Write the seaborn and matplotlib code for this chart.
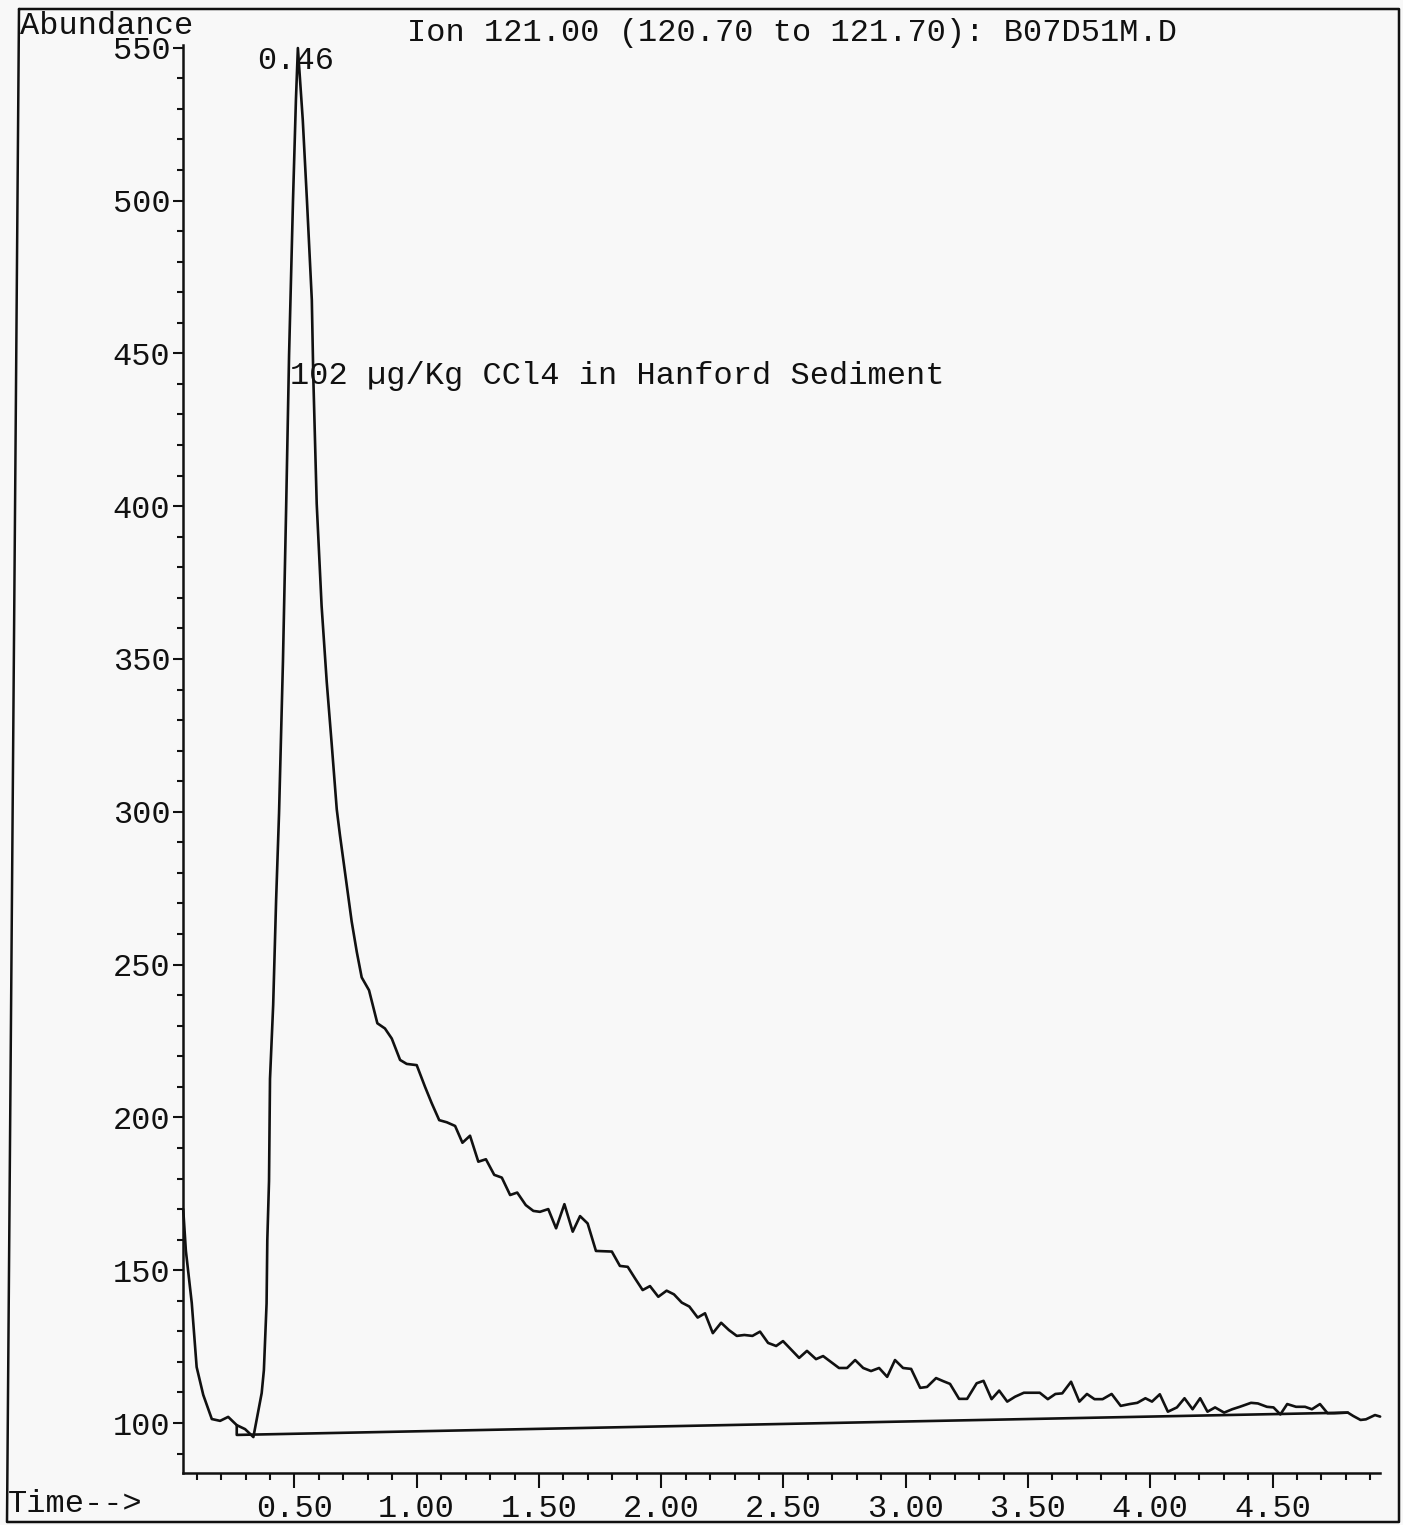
import matplotlib
matplotlib.use("Agg")
import matplotlib.pyplot as plt
from matplotlib.lines import Line2D
from matplotlib.ticker import FixedLocator, FixedFormatter
import numpy as np
import pandas as pd
import seaborn as sns

# Extracted ion chromatogram, m/z 121 (scan time in minutes, abundance)
time_min = [
    0.045, 0.056, 0.080, 0.100, 0.127, 0.162, 0.196, 0.229, 0.264, 0.298,
    0.332, 0.366, 0.375, 0.386, 0.389, 0.396, 0.400, 0.413, 0.425, 0.437,
    0.453, 0.466, 0.478, 0.494, 0.506, 0.514, 0.534, 0.551, 0.571, 0.577,
    0.591, 0.611, 0.632, 0.652, 0.673, 0.686, 0.714, 0.734, 0.755, 0.775,
    0.805, 0.839, 0.870, 0.898, 0.932, 0.959, 1.000, 1.034, 1.061, 1.092,
    1.123, 1.157, 1.187, 1.218, 1.252, 1.283, 1.317, 1.348, 1.382, 1.411,
    1.446, 1.477, 1.504, 1.538, 1.570, 1.604, 1.638, 1.668, 1.699, 1.733,
    1.798, 1.831, 1.863, 1.893, 1.924, 1.954, 1.988, 2.022, 2.052, 2.084,
    2.115, 2.149, 2.179, 2.211, 2.245, 2.277, 2.309, 2.340, 2.373, 2.404,
    2.437, 2.470, 2.498, 2.564, 2.596, 2.633, 2.662, 2.727, 2.760, 2.793,
    2.826, 2.858, 2.891, 2.924, 2.956, 2.989, 3.022, 3.059, 3.087, 3.124,
    3.153, 3.181, 3.218, 3.251, 3.290, 3.318, 3.351, 3.382, 3.415, 3.447,
    3.483, 3.548, 3.581, 3.612, 3.640, 3.676, 3.710, 3.741, 3.772, 3.805,
    3.842, 3.879, 3.916, 3.947, 3.980, 4.007, 4.039, 4.072, 4.109, 4.140,
    4.173, 4.204, 4.234, 4.265, 4.302, 4.335, 4.366, 4.412, 4.440, 4.477,
    4.504, 4.532, 4.560, 4.596, 4.633, 4.661, 4.694, 4.725, 4.753, 4.808,
    4.830, 4.860, 4.882, 4.919, 4.940,
]
abundance = [
    170.0, 156.3, 139.3, 118.3, 109.2, 101.3, 100.7, 102.0, 99.3, 98.0,
    95.4, 109.8, 117.3, 139.1, 159.9, 179.2, 212.6, 236.8, 271.1, 299.6,
    349.3, 399.4, 449.5, 499.9, 532.9, 549.9, 526.4, 500.2, 467.5, 442.5,
    400.8, 367.4, 342.5, 322.5, 300.8, 292.4, 275.8, 264.1, 254.1, 245.8,
    241.6, 230.8, 229.1, 225.8, 218.8, 217.5, 217.1, 210.0, 204.7, 199.1,
    198.4, 197.2, 191.7, 194.0, 185.5, 186.3, 181.2, 180.3, 174.6, 175.4,
    171.3, 169.4, 169.1, 170.0, 163.7, 171.6, 162.6, 167.7, 165.3, 156.3,
    156.1, 151.4, 151.1, 147.3, 143.5, 144.8, 141.3, 143.3, 142.1, 139.4,
    138.1, 134.5, 135.9, 129.4, 132.8, 130.4, 128.5, 128.8, 128.5, 129.9,
    126.2, 125.2, 126.8, 121.3, 123.6, 120.9, 121.9, 118.0, 118.0, 120.6,
    118.0, 117.0, 118.0, 115.1, 120.6, 118.0, 117.7, 111.5, 111.8, 114.7,
    113.7, 112.8, 107.9, 107.9, 113.0, 113.8, 107.8, 110.6, 107.0, 108.6,
    109.9, 109.9, 107.8, 109.5, 109.7, 113.5, 107.0, 109.5, 107.8, 107.8,
    109.5, 105.6, 106.2, 106.6, 108.1, 107.0, 109.4, 103.7, 105.1, 108.1,
    104.5, 108.1, 103.7, 105.1, 103.4, 104.5, 105.3, 106.6, 106.4, 105.3,
    105.1, 102.8, 106.2, 105.3, 105.3, 104.5, 106.2, 103.2, 103.2, 103.4,
    102.3, 101.0, 101.2, 102.6, 102.1,
]

# Integration baseline drawn under the peak
baseline_time = [0.264, 0.264, 4.808]
baseline_abundance = [99.3, 96.1, 103.4]

x_major = [0.5, 1.0, 1.5, 2.0, 2.5, 3.0, 3.5, 4.0, 4.5]
x_major_labels = ["0.50", "1.00", "1.50", "2.00", "2.50", "3.00", "3.50", "4.00", "4.50"]
x_minor = [round(0.1 * i, 1) for i in range(1, 50)]
y_major = [100, 150, 200, 250, 300, 350, 400, 450, 500, 550]
y_major_labels = ["100", "150", "200", "250", "300", "350", "400", "450", "500", "550"]
y_minor = list(range(90, 551, 10))

title_text = "Ion 121.00 (120.70 to 121.70): B07D51M.D"
y_title = "Abundance"
x_title = "Time-->"
peak_label = "0.46"
sample_note = "102 \u00b5g/Kg CCl4 in Hanford Sediment"

BG = "#f8f8f8"
INK = "#111111"

sns.set_style("ticks")
plt.rcParams["font.family"] = ["Liberation Mono", "DejaVu Sans Mono"]
plt.rcParams["font.size"] = 23
plt.rcParams["text.color"] = INK

W, H = 1403, 1525
fig = plt.figure(figsize=(W / 100, H / 100), dpi=100, facecolor=BG)
ax = fig.add_axes([183 / W, 1 - 1473 / H, (1380 - 183) / W, (1473 - 45) / H])
ax.set_facecolor(BG)

trace = pd.DataFrame({"time": time_min, "abundance": abundance})
base = pd.DataFrame({"time": baseline_time, "abundance": baseline_abundance})

sns.lineplot(data=trace, x="time", y="abundance", estimator=None, sort=False,
             color=INK, linewidth=1.9, ax=ax, clip_on=False)
sns.lineplot(data=base, x="time", y="abundance", estimator=None, sort=False,
             color=INK, linewidth=1.9, ax=ax)

ax.set_xlim(0.0442, 4.9395)
ax.set_ylim(83.64, 550.9)
ax.set_xlabel("")
ax.set_ylabel("")

for side in ("top", "right"):
    ax.spines[side].set_visible(False)
for side in ("left", "bottom"):
    ax.spines[side].set_linewidth(1.8)
    ax.spines[side].set_color(INK)

ax.xaxis.set_major_locator(FixedLocator(x_major))
ax.xaxis.set_major_formatter(FixedFormatter(x_major_labels))
ax.xaxis.set_minor_locator(FixedLocator(x_minor))
ax.yaxis.set_major_locator(FixedLocator(y_major))
ax.yaxis.set_major_formatter(FixedFormatter(y_major_labels))
ax.yaxis.set_minor_locator(FixedLocator(y_minor))

ax.tick_params(axis="x", which="major", direction="out", length=11, width=1.5,
               pad=4, colors=INK, labelsize=23)
ax.tick_params(axis="x", which="minor", direction="out", length=4.8, width=1.5, colors=INK)
ax.tick_params(axis="y", which="major", direction="out", length=7.5, width=1.5,
               pad=1.5, colors=INK, labelsize=23)
ax.tick_params(axis="y", which="minor", direction="out", length=4, width=1.5, colors=INK)

# Retention-time label at the apex of the peak
i_peak = int(np.argmax(abundance))
ax.annotate(peak_label, xy=(time_min[i_peak], abundance[i_peak]),
            xytext=(-1.5, -15), textcoords="offset points",
            ha="center", va="baseline", fontsize=23, annotation_clip=False)

ax.text(0.482, 440.0, sample_note, ha="left", va="baseline", fontsize=23)

fig.text(20 / W, 1 - 34 / H, y_title, ha="left", va="baseline", fontsize=23)
fig.text(407 / W, 1 - 41 / H, title_text, ha="left", va="baseline", fontsize=23)
fig.text(8 / W, 1 - 1512 / H, x_title, ha="left", va="baseline", fontsize=23)

# Page frame around the whole printout
frame_x = [19 / W, 1399 / W, 1399 / W, 7 / W, 19 / W]
frame_y = [1 - 9 / H, 1 - 9 / H, 1 - 1522 / H, 1 - 1522 / H, 1 - 9 / H]
fig.add_artist(Line2D(frame_x, frame_y, transform=fig.transFigure,
                      color=INK, linewidth=1.8))

fig.savefig("out.png", dpi=100, facecolor=BG)
